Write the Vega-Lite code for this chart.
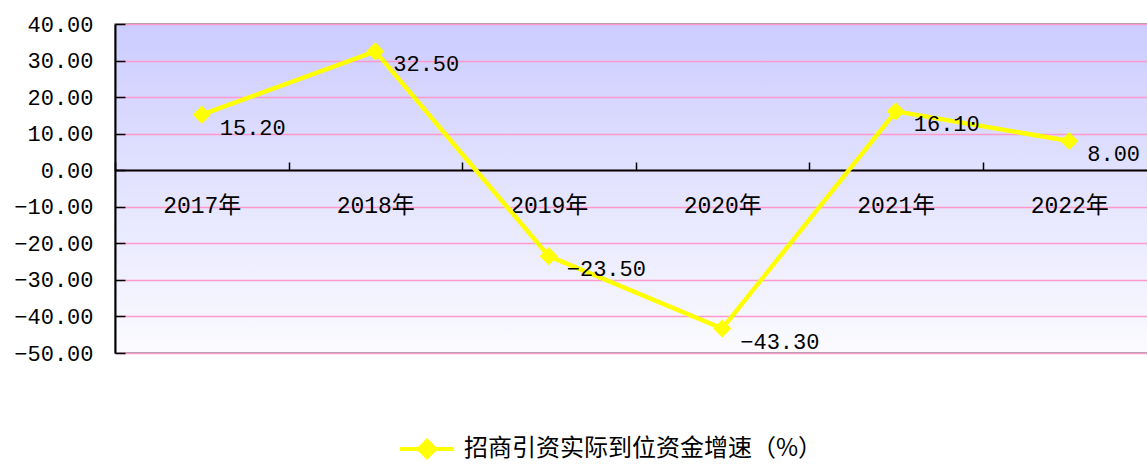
{
  "$schema": "https://vega.github.io/schema/vega-lite/v6.json",
  "width": 1041,
  "height": 329,
  "autosize": {"type": "none"},
  "padding": {"left": 115, "top": 24, "right": 0, "bottom": 111},
  "background": "white",
  "config": {
    "view": {
      "stroke": "#888888",
      "strokeWidth": 1.5,
      "fill": {"gradient": "linear", "x1": 0, "y1": 0, "x2": 0, "y2": 1,
        "stops": [{"offset": 0, "color": "#ccccff"}, {"offset": 1, "color": "#fbfbff"}]}
    },
    "font": "Liberation Mono"
  },
  "data": {
    "values": [
      {"year": "2017年", "value": 15.2, "series": "招商引资实际到位资金增速（%）"},
      {"year": "2018年", "value": 32.5, "series": "招商引资实际到位资金增速（%）"},
      {"year": "2019年", "value": -23.5, "series": "招商引资实际到位资金增速（%）"},
      {"year": "2020年", "value": -43.3, "series": "招商引资实际到位资金增速（%）"},
      {"year": "2021年", "value": 16.1, "series": "招商引资实际到位资金增速（%）"},
      {"year": "2022年", "value": 8.0, "series": "招商引资实际到位资金增速（%）"}
    ]
  },
  "encoding": {
    "x": {
      "field": "year", "type": "nominal", "sort": null,
      "scale": {"type": "band", "paddingInner": 0, "paddingOuter": 0},
      "axis": {
        "title": null, "orient": "bottom", "offset": -183,
        "domainColor": "#000000", "domainWidth": 2,
        "tickBand": "extent", "tickColor": "#000000", "tickWidth": 1.5, "tickSize": -8,
        "labelAngle": 0, "labelPadding": 43, "labelBaseline": "middle",
        "labelFont": "Liberation Mono, Noto Sans CJK SC", "labelFontSize": 23, "labelColor": "#000000",
        "grid": false
      }
    },
    "y": {
      "field": "value", "type": "quantitative",
      "scale": {"domain": [-50, 40], "nice": false, "zero": false},
      "axis": {
        "title": null, "values": [-50, -40, -30, -20, -10, 0, 10, 20, 30, 40],
        "format": ".2f", "domainColor": "#000000", "domainWidth": 2,
        "tickColor": "#000000", "tickWidth": 1.5, "tickSize": -10,
        "labelPadding": 32, "labelFont": "Liberation Mono", "labelFontSize": 22, "labelColor": "#000000",
        "grid": true, "gridColor": "#ff99cc", "gridWidth": 1.5, "gridOpacity": 1
      }
    }
  },
  "layer": [
    {
      "mark": {"type": "line", "strokeWidth": 4.5},
      "encoding": {
        "color": {
          "field": "series", "type": "nominal",
          "scale": {"range": ["#ffff00"]},
          "legend": {
            "title": null, "orient": "none", "legendX": 283, "legendY": 396,
            "symbolType": "M-1,0L1,0M-0.3,0L0,-0.3L0.3,0L0,0.3Z",
            "symbolSize": 2916, "symbolStrokeWidth": 4,
            "symbolFillColor": "#ffff00", "symbolStrokeColor": "#ffff00", "symbolOpacity": 1,
            "labelFont": "Noto Sans CJK SC", "labelFontSize": 24, "labelColor": "#000000",
            "labelLimit": 600, "labelOffset": 8
          }
        }
      }
    },
    {
      "mark": {"type": "point", "shape": "diamond", "filled": true, "size": 330, "opacity": 1},
      "encoding": {
        "color": {"field": "series", "type": "nominal"}
      }
    },
    {
      "mark": {"type": "text", "align": "left", "baseline": "middle", "dx": 18, "dy": 13,
        "font": "Liberation Mono", "fontSize": 22, "color": "#000000"},
      "encoding": {
        "text": {"field": "value", "type": "quantitative", "format": ".2f"}
      }
    }
  ]
}
